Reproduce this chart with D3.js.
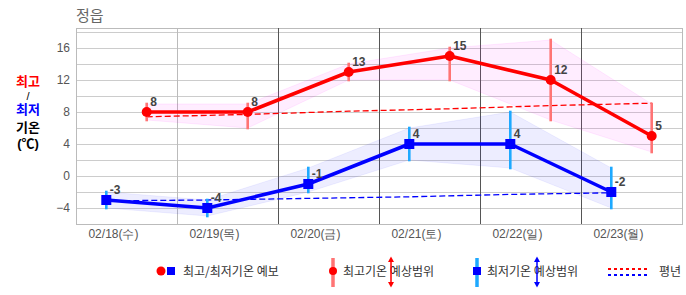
<!DOCTYPE html>
<html><head><meta charset="utf-8">
<script src="https://cdn.jsdelivr.net/npm/d3@7"></script>
<style>
html,body{margin:0;padding:0;background:#fff;}
svg{display:block;font-family:"Liberation Sans","Noto Sans CJK KR",sans-serif;}
</style></head>
<body><svg id="c" width="686" height="295"></svg>
<script>
const dates = ["02/18(수)","02/19(목)","02/20(금)","02/21(토)","02/22(일)","02/23(월)"];
const maxTemp = [8, 8, 13, 15, 12, 5];
const minTemp = [-3, -4, -1, 4, 4, -2];
const maxRangeLow  = [7, 6, 12, 12, 7, 3];
const maxRangeHigh = [9, 9, 14, 16, 17, 9];
const minRangeLow  = [-4, -5, -2, 2, 1, -4];
const minRangeHigh = [-2, -3, 1, 6, 8, 1];
const maxNormal = [7.4, 7.7, 8.1, 8.4, 8.8, 9.1];
const minNormal = [-3.1, -3.0, -2.8, -2.6, -2.3, -2.1];
const yTicks = [-4, 0, 4, 8, 12, 16];
const yGrid = [-4, -2, 0, 2, 4, 6, 8, 10, 12, 14, 16, 18];
const title = "정읍";

const svg = d3.select("#c");
const L = 76, R = 682, T = 28, B = 224;
const x = d3.scaleLinear().domain([0, 6]).range([L, R]);
const y = d3.scaleLinear().domain([-6, 18.5]).range([B, T]);
const minX = i => x(i + 0.3);
const maxX = i => x(i + 0.7);
const idx = d3.range(dates.length);

// title
svg.append("text").attr("x", 76).attr("y", 21).attr("fill", "#666")
  .style("font-family", "'Noto Sans CJK KR'").style("font-size", "15px").text(title);

// left label
const lab = [["최고", "#ff0000", 86, "bold", 13], ["/", "#000", 99.5, "normal", 11], ["최저", "#0000ff", 114, "bold", 13], ["기온", "#000", 132, "bold", 13], ["(℃)", "#000", 148, "bold", 13]];
lab.forEach(d => svg.append("text").attr("x", 28).attr("y", d[2]).attr("text-anchor", "middle")
  .attr("fill", d[1]).style("font-weight", d[3]).style("font-size", d[4] + "px")
  .text(d[0]));

// grid
const g = svg.append("g");
g.selectAll("line.h").data(yGrid).join("line")
  .attr("x1", L).attr("x2", R).attr("y1", d => Math.round(y(d)) + 0.5).attr("y2", d => Math.round(y(d)) + 0.5)
  .attr("stroke", "#cccccc");
g.append("rect").attr("x", L + 0.5).attr("y", T + 0.5).attr("width", R - L).attr("height", B - T)
  .attr("fill", "none").attr("stroke", "#bbbbbb");
g.selectAll("line.v").data(d3.range(1, 6)).join("line")
  .attr("x1", d => Math.round(x(d)) + 0.5).attr("x2", d => Math.round(x(d)) + 0.5)
  .attr("y1", T).attr("y2", B)
  .attr("stroke", d => d === 1 ? "#bbbbbb" : "#555555");

// y axis labels
const ya = svg.append("g").attr("transform", `translate(${L},0)`)
  .call(d3.axisLeft(y).tickValues(yTicks).tickSize(0).tickPadding(6));
ya.select(".domain").remove();
ya.selectAll("text").attr("fill", "#555").style("font-size", "12px").style("font-family", "'Liberation Sans'");

// x axis labels
const xa = svg.append("g").attr("transform", `translate(0,${B})`)
  .call(d3.axisBottom(x).tickValues(idx.map(i => i + 0.366)).tickFormat((d, i) => dates[i]).tickSize(0).tickPadding(5.5));
xa.select(".domain").remove();
xa.selectAll("text").attr("fill", "#555").style("font-size", "12px");

// bands
const area = (xs, lo, hi) => d3.area().x(i => xs(i)).y0(i => y(lo[i])).y1(i => y(hi[i]))(idx);
svg.append("path").attr("d", area(maxX, maxRangeLow, maxRangeHigh))
  .attr("fill", "#ff00ff").attr("fill-opacity", 0.07).attr("stroke", "#ff00ff").attr("stroke-opacity", 0.08);
svg.append("path").attr("d", area(minX, minRangeLow, minRangeHigh))
  .attr("fill", "#0000ff").attr("fill-opacity", 0.07).attr("stroke", "#0000ff").attr("stroke-opacity", 0.06);

// normals
const line = (xs, arr) => d3.line().x(i => xs(i)).y(i => y(arr[i]))(idx);
svg.append("path").attr("d", line(maxX, maxNormal)).attr("fill", "none")
  .attr("stroke", "#ff0000").attr("stroke-width", 1.3).attr("stroke-dasharray", "6,3");
svg.append("path").attr("d", line(minX, minNormal)).attr("fill", "none")
  .attr("stroke", "#0000ff").attr("stroke-width", 1.3).attr("stroke-dasharray", "6,3");

// range bars
svg.selectAll("line.rmax").data(idx).join("line")
  .attr("x1", maxX).attr("x2", maxX).attr("y1", i => y(maxRangeHigh[i])).attr("y2", i => y(maxRangeLow[i]))
  .attr("stroke", "#ff7474").attr("stroke-width", 2.6).attr("stroke-linecap", "square");
svg.selectAll("line.rmin").data(idx).join("line")
  .attr("x1", minX).attr("x2", minX).attr("y1", i => y(minRangeHigh[i])).attr("y2", i => y(minRangeLow[i]))
  .attr("stroke", "#1ea9ff").attr("stroke-width", 2.6).attr("stroke-linecap", "square");

// main lines
svg.append("path").attr("d", line(maxX, maxTemp)).attr("fill", "none")
  .attr("stroke", "#ff0000").attr("stroke-width", 3.5).attr("stroke-linejoin", "round");
svg.append("path").attr("d", line(minX, minTemp)).attr("fill", "none")
  .attr("stroke", "#0000ff").attr("stroke-width", 3.5).attr("stroke-linejoin", "round");

// markers
svg.selectAll("circle.mx").data(idx).join("circle")
  .attr("cx", maxX).attr("cy", i => y(maxTemp[i])).attr("r", 5).attr("fill", "#ff0000");
svg.selectAll("rect.mn").data(idx).join("rect")
  .attr("x", i => minX(i) - 5).attr("y", i => y(minTemp[i]) - 5).attr("width", 10).attr("height", 10).attr("fill", "#0000ff");

// value labels
const vlab = (xs, arr) => svg.selectAll(null).data(idx).join("text")
  .attr("x", i => xs(i) + 3.5).attr("y", i => y(arr[i]) - 5.8)
  .attr("fill", "#444").style("font-weight", "bold").style("font-size", "12px")
  .text(i => String(arr[i]));
vlab(maxX, maxTemp);
vlab(minX, minTemp);

// legend
const lg = svg.append("g");
const ly = 271;
const ltext = (xx, t) => lg.append("text").attr("x", xx).attr("y", ly + 4.5).attr("fill", "#333")
  .style("font-size", "12px").style("font-family", "'Noto Sans CJK KR'").text(t);
lg.append("circle").attr("cx", 161).attr("cy", ly).attr("r", 4.5).attr("fill", "#ff0000");
lg.append("rect").attr("x", 167).attr("y", ly - 4).attr("width", 8).attr("height", 8).attr("fill", "#0000ff");
ltext(183, "최고/최저기온 예보");

lg.append("line").attr("x1", 333).attr("x2", 333).attr("y1", 258).attr("y2", 287).attr("stroke", "#ff7474").attr("stroke-width", 3.5);
lg.append("circle").attr("cx", 333).attr("cy", ly).attr("r", 4).attr("fill", "#ff0000");
ltext(343, "최고기온 예상범위");

lg.append("line").attr("x1", 477).attr("x2", 477).attr("y1", 258).attr("y2", 287).attr("stroke", "#1ea9ff").attr("stroke-width", 3.5);
lg.append("rect").attr("x", 473).attr("y", ly - 4).attr("width", 8).attr("height", 8).attr("fill", "#0000ff");
ltext(487, "최저기온 예상범위");

const arrow = (xx, col) => {
  lg.append("line").attr("x1", xx).attr("x2", xx).attr("y1", 259).attr("y2", 285).attr("stroke", col).attr("stroke-width", 1.5);
  lg.append("path").attr("d", `M${xx - 3},${262}L${xx},${256.5}L${xx + 3},${262}Z`).attr("fill", col);
  lg.append("path").attr("d", `M${xx - 3},${282}L${xx},${287.5}L${xx + 3},${282}Z`).attr("fill", col);
};
arrow(391, "#ff0000");
arrow(537, "#0000ff");

lg.append("line").attr("x1", 608).attr("x2", 647).attr("y1", 269).attr("y2", 269).attr("stroke", "#ff0000").attr("stroke-width", 2).attr("stroke-dasharray", "3,3");
lg.append("line").attr("x1", 608).attr("x2", 647).attr("y1", 275).attr("y2", 275).attr("stroke", "#0000ff").attr("stroke-width", 2).attr("stroke-dasharray", "3,3");
ltext(659, "평년");
</script></body></html>
